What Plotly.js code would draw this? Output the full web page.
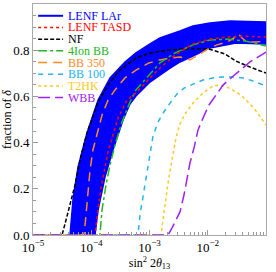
<!DOCTYPE html>
<html><head><meta charset="utf-8">
<script src="https://cdn.plot.ly/plotly-3.0.1.min.js"></script>
<style>html,body{margin:0;padding:0;background:#fff}#c{width:276px;height:272px}</style>
</head><body><div id="c"></div>
<script>
// ---- data (x = sin^2 2theta13, y = fraction of delta) ----
const seriesNames = ["LENF LAr","LENF TASD","NF","4Ion BB","BB 350","BB 100","T2HK","WBB"];
const seriesColors = ["#0000ff","#ff0000","#000000","#22b822","#ff8a1e","#22b4f0","#ffc820","#a020f0"];

// LENF LAr band (upper and lower edges)
const larUpperX = [4.32e-5,4.86e-5,5.93e-5,8.45e-5,1.31e-4,2.10e-4,3.79e-4,5.86e-4,1.02e-3,1.51e-3,3.34e-3,5.58e-3,1.09e-2,2.41e-2,0.1];
const larUpperY = [0,0.152,0.294,0.442,0.584,0.680,0.749,0.788,0.827,0.853,0.883,0.905,0.918,0.926,0.922];
const larLowerX = [1.16e-4,1.31e-4,1.72e-4,2.36e-4,3.51e-4,4.62e-4,5.86e-4,1.02e-3,1.51e-3,2.16e-3,3.34e-3,5.58e-3,1.09e-2,3.05e-2,0.1];
const larLowerY = [0,0.108,0.251,0.368,0.498,0.567,0.602,0.662,0.693,0.719,0.749,0.775,0.810,0.831,0.827];

const tasdX = [1e-5,1.16e-4,1.28e-4,1.50e-4,1.94e-4,2.88e-4,4.11e-4,5.86e-4,1.02e-3,1.51e-3,2.74e-3,5.58e-3,1.09e-2,2.14e-2,4.36e-2,0.1];
const tasdY = [0,0,0.095,0.216,0.359,0.506,0.584,0.615,0.680,0.723,0.779,0.827,0.848,0.857,0.861,0.857];

const nfX = [1e-5,3.15e-5,3.69e-5,4.32e-5,5.26e-5,6.41e-5,8.45e-5,1.31e-4,2.10e-4,3.12e-4,5.86e-4,1.02e-3,2.16e-3,4.95e-3,1.05e-2,1.98e-2,3.05e-2,5.31e-2,0.1];
const nfY = [0,0,0.065,0.130,0.216,0.325,0.442,0.576,0.662,0.714,0.766,0.788,0.801,0.807,0.805,0.784,0.753,0.727,0.701];

const ionX = [1e-5,1.41e-4,1.53e-4,1.79e-4,2.10e-4,2.56e-4,3.37e-4,4.62e-4,5.86e-4,1.02e-3,1.51e-3,2.74e-3,5.58e-3,1.09e-2,2.14e-2,4.36e-2,0.1];
const ionY = [0,0,0.108,0.216,0.303,0.390,0.489,0.576,0.628,0.697,0.745,0.788,0.823,0.844,0.848,0.840,0.818];

const bb350X = [1e-5,7.52e-5,8.13e-5,8.79e-5,9.53e-5,1.07e-4,1.26e-4,1.53e-4,1.94e-4,2.56e-4,3.79e-4,5.86e-4,9.79e-4,1.51e-3,2.25e-3,3.34e-3,4.06e-3,4.95e-3,6.04e-3,8.28e-3,1.09e-2,1.44e-2,2.14e-2,2.82e-2,3.30e-2,3.87e-2,4.72e-2,6.73e-2,0.1];
const bb350Y = [0,0,0.087,0.173,0.281,0.368,0.442,0.519,0.584,0.628,0.680,0.714,0.745,0.758,0.766,0.771,0.766,0.758,0.771,0.792,0.810,0.823,0.835,0.853,0.874,0.853,0.835,0.835,0.840];

const bb100X = [1e-5,6.35e-4,6.87e-4,7.73e-4,8.71e-4,9.79e-4,1.15e-3,1.40e-3,1.71e-3,2.25e-3,2.96e-3,3.91e-3,5.58e-3,8.28e-3,1.23e-2,1.83e-2,2.71e-2,4.03e-2,5.98e-2,0.1];
const bb100Y = [0,0,0.087,0.165,0.260,0.338,0.429,0.489,0.528,0.571,0.610,0.636,0.654,0.671,0.680,0.684,0.684,0.680,0.667,0.645];

const t2hkX = [1e-5,1.57e-3,1.71e-3,1.85e-3,2.08e-3,2.43e-3,2.85e-3,3.34e-3,4.06e-3,5.58e-3,8.28e-3,1.23e-2,1.62e-2,2.14e-2,3.05e-2,4.03e-2,5.31e-2,7.00e-2,0.1];
const t2hkY = [0,0,0.065,0.130,0.225,0.325,0.420,0.481,0.524,0.571,0.615,0.645,0.649,0.641,0.619,0.597,0.567,0.532,0.476];

const wbbX = [1e-5,2.08e-3,2.43e-3,2.85e-3,3.34e-3,3.91e-3,4.41e-3,4.95e-3,5.81e-3,6.81e-3,8.28e-3,1.05e-2,1.39e-2,1.83e-2,2.61e-2,3.58e-2,5.31e-2,0.1];
const wbbY = [0,0,0.030,0.065,0.100,0.173,0.247,0.312,0.377,0.455,0.506,0.563,0.606,0.649,0.684,0.714,0.749,0.792];

const xTickVals = [1e-5,1e-4,1e-3,1e-2,1e-1];
const xTickText = ["10<sup>\u22125</sup>","10<sup>\u22124</sup>","10<sup>\u22123</sup>","10<sup>\u22122</sup>","10<sup>\u22121</sup>"];
const yTickVals = [0,0.2,0.4,0.6,0.8,1.0];

// ---- build ----
const SERIF = "Liberation Serif, Times New Roman, serif";
const bandX = larUpperX.concat(larLowerX.slice().reverse());
const bandY = larUpperY.concat(larLowerY.slice().reverse());
const dashes = [null,"dot","4px,2px","dashdot","9px,6px","5px,5px","dot","12px,5px"];

const traces = [
  {x: bandX, y: bandY, mode:"lines", fill:"toself", fillcolor: seriesColors[0],
   line:{color: seriesColors[0], width:1.5}, showlegend:false, hoverinfo:"skip"},
  {x: nfX, y: nfY, mode:"lines", line:{color: seriesColors[2], width:1.5, dash:dashes[2]}, showlegend:false},
  {x: bb350X, y: bb350Y, mode:"lines", line:{color: seriesColors[4], width:1.5, dash:dashes[4]}, showlegend:false},
  {x: ionX, y: ionY, mode:"lines", line:{color: seriesColors[3], width:1.5, dash:dashes[3]}, showlegend:false},
  {x: tasdX, y: tasdY, mode:"lines", line:{color: seriesColors[1], width:1.5, dash:dashes[1]}, showlegend:false},
  {x: bb100X, y: bb100Y, mode:"lines", line:{color: seriesColors[5], width:1.5, dash:dashes[5]}, showlegend:false},
  {x: t2hkX, y: t2hkY, mode:"lines", line:{color: seriesColors[6], width:1.5, dash:dashes[6]}, showlegend:false},
  {x: wbbX, y: wbbY, mode:"lines", line:{color: seriesColors[7], width:1.5, dash:dashes[7]}, showlegend:false}
];

// hand-drawn legend (plot-area paper coords)
const shapes = [], annotations = [];
const legTop = 0.949, legStep = 0.0506;
seriesNames.forEach((n, i) => {
  const yy = legTop - i * legStep;
  shapes.push({type:"line", xref:"paper", yref:"paper", x0:0.022, x1:0.129, y0:yy, y1:yy,
    line:{color: seriesColors[i], width: i===0 ? 2 : 1.5, dash: dashes[i] || "solid"}});
  annotations.push({xref:"paper", yref:"paper", x:0.143, y:yy, xanchor:"left", yanchor:"middle",
    text: n, showarrow:false, font:{family:SERIF, size:12, color: seriesColors[i]}});
});

const layout = {
  width:276, height:272,
  margin:{l:33, r:10, t:4, b:37},
  paper_bgcolor:"#fff", plot_bgcolor:"#fff",
  font:{family:SERIF, size:13, color:"#000"},
  showlegend:false,
  xaxis:{type:"log", range:[-5,-1], tickvals:xTickVals, ticktext:xTickText,
    ticks:"inside", ticklen:5, tickcolor:"#999", showline:true, linecolor:"#aaa", mirror:true,
    showgrid:false, zeroline:false, tickfont:{family:SERIF, size:13},
    minor:{dtick:"D1", ticks:"inside", ticklen:3, tickcolor:"#999"},
    title:{text:"sin<sup>2</sup> 2<i>θ</i><sub>13</sub>", font:{family:SERIF, size:12}, standoff:4}},
  yaxis:{range:[0,1], tickvals:yTickVals, tickformat:".1f",
    ticks:"inside", ticklen:5, tickcolor:"#999", showline:true, linecolor:"#aaa", mirror:true,
    showgrid:false, zeroline:false, tickfont:{family:SERIF, size:13},
    minor:{dtick:0.05, ticks:"inside", ticklen:3, tickcolor:"#999"},
    title:{text:"fraction of <i>δ</i>", font:{family:SERIF, size:12}, standoff:2}},
  shapes: shapes,
  annotations: annotations
};
Plotly.newPlot("c", traces, layout, {displayModeBar:false, staticPlot:true});
</script></body></html>
